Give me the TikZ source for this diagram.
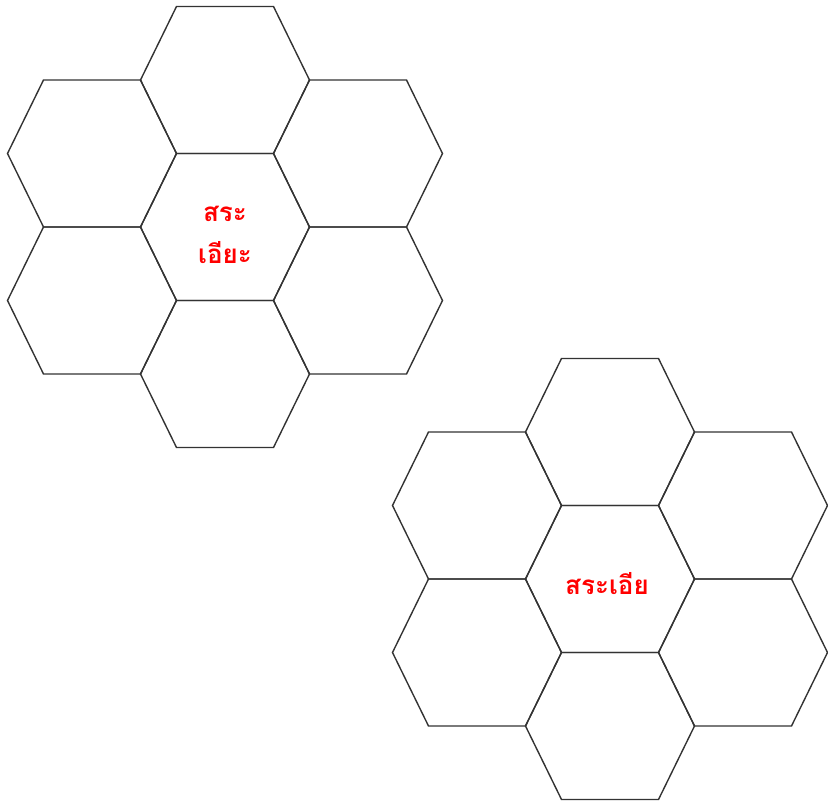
\documentclass[tikz,border=0pt]{standalone}
\usepackage{fontspec}
\newfontfamily\thaifont[Script=Thai]{Loma}
\tikzset{
  x=1pt, y=-1pt,
  hexline/.style={draw=black!80, line width=1.4pt, line join=miter},
  hexcell/.pic={\draw[hexline] (-48.5,-73.5) -- (48.5,-73.5) -- (84.5,0) -- (48.5,73.5) -- (-48.5,73.5) -- (-84.5,0) -- cycle;},
  thailabel/.style={text=red, font=\thaifont\bfseries\fontsize{26}{42}\selectfont, align=center, inner sep=0pt}
}
\begin{document}
\begin{tikzpicture}
\useasboundingbox (0,0) rectangle (828,803);
\foreach \cx/\cy in {225/227, 610/579}{
  \foreach \dx/\dy in {0/0, 0/-147, 0/147, -133/-73.5, 133/-73.5, -133/73.5, 133/73.5}{
    \pic at ({\cx+\dx},{\cy+\dy}) {hexcell};
  }
}
\node[thailabel] (lblA) at (225,235) {สระ\\เอียะ};
\node[thailabel] (lblB) at (607,584) {สระเอีย};
\end{tikzpicture}
\end{document}
